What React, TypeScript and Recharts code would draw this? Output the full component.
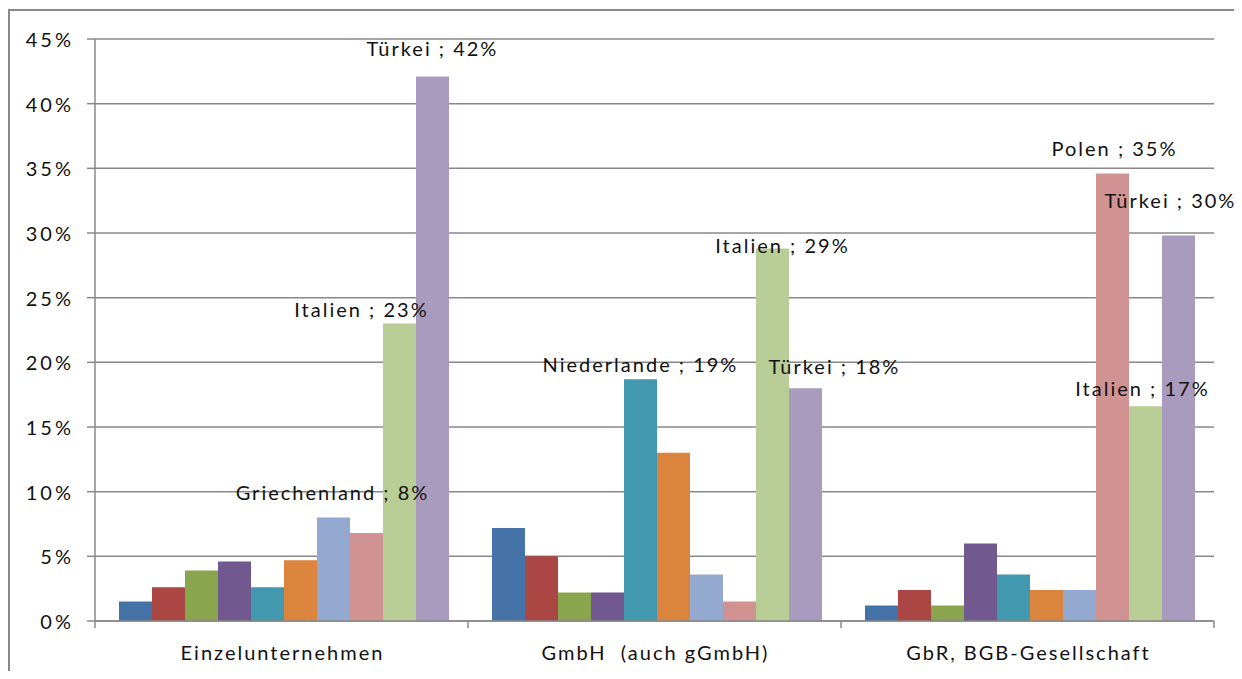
import { BarChart, Bar, XAxis, YAxis, CartesianGrid, LabelList } from "recharts";

const categories = ["Einzelunternehmen", "GmbH  (auch gGmbH)", "GbR, BGB-Gesellschaft"];

// one array per country, values in percent, one per category
const land1 = [1.5, 7.2, 1.2];
const land2 = [2.6, 5.0, 2.4];
const land3 = [3.9, 2.2, 1.2];
const land4 = [4.6, 2.2, 6.0];
const niederlande = [2.6, 18.7, 3.6];
const land5 = [4.7, 13.0, 2.4];
const griechenland = [8.0, 3.6, 2.4];
const polen = [6.8, 1.5, 34.6];
const italien = [23.0, 28.8, 16.6];
const tuerkei = [42.1, 18.0, 29.8];

const yTicks = [0, 5, 10, 15, 20, 25, 30, 35, 40, 45];

const series = [
  { name: "Land 1", values: land1, color: "#4572A7" },
  { name: "Land 2", values: land2, color: "#AA4643" },
  { name: "Land 3", values: land3, color: "#89A54E" },
  { name: "Land 4", values: land4, color: "#71588F" },
  { name: "Niederlande", values: niederlande, color: "#4198AF" },
  { name: "Land 5", values: land5, color: "#DB843D" },
  { name: "Griechenland", values: griechenland, color: "#93A9CF" },
  { name: "Polen", values: polen, color: "#D19392" },
  { name: "Italien", values: italien, color: "#B9CD96" },
  { name: "Türkei", values: tuerkei, color: "#A99BBD" },
];

// which bars carry a data label (category indexes)
const labelled: Record<string, number[]> = {
  Griechenland: [0],
  Niederlande: [1],
  Polen: [2],
  Italien: [0, 1, 2],
  Türkei: [0, 1, 2],
};

// manual nudges of the labels, like in the original sheet: [dx, dy] from bar top centre
const labelNudge: Record<string, [number, number]> = {
  "Türkei|0": [-1, -29],
  "Italien|0": [-39, -15],
  "Griechenland|0": [-2, -26],
  "Niederlande|1": [-1, -15],
  "Italien|1": [9, -4],
  "Türkei|1": [28, -22],
  "Polen|2": [1, -26],
  "Türkei|2": [-9, -36],
  "Italien|2": [-4, -18],
};

const FONT = "Lato, 'Open Sans', sans-serif";
const GRID = "#888888";
const SPACING = 2;

const data = categories.map((c, i) => {
  const row: Record<string, string | number> = { name: c };
  series.forEach((s) => (row[s.name] = s.values[i]));
  return row;
});

const makeLabel = (name: string) => (props: any) => {
  const { x, y, width, value, index } = props;
  if (!(labelled[name] || []).includes(index)) return null;
  const [dx, dy] = labelNudge[`${name}|${index}`] || [0, -15];
  return (
    <text
      x={Number(x) + Number(width) / 2 + dx + SPACING / 2}
      y={Number(y) + dy}
      textAnchor="middle"
      dominantBaseline="central"
      fontFamily={FONT}
      fontSize={20}
      letterSpacing={SPACING}
      fill="#111"
    >
      {`${name} ; ${Math.round(Number(value))}%`}
    </text>
  );
};

const CategoryTick = (props: any) => {
  const { x, y, payload, index } = props;
  const half = payload.offset || 0;
  const last = index === categories.length - 1;
  return (
    <g>
      <line x1={x - half} y1={y} x2={x - half} y2={y + 7} stroke={GRID} strokeWidth={1.5} />
      {last && <line x1={x + half} y1={y} x2={x + half} y2={y + 7} stroke={GRID} strokeWidth={1.5} />}
      <text
        x={x + SPACING / 2}
        y={y + 39}
        textAnchor="middle"
        fontFamily={FONT}
        fontSize={20}
        letterSpacing={SPACING}
        fill="#111"
        style={{ whiteSpace: "pre" }}
      >
        {payload.value}
      </text>
    </g>
  );
};

const ValueTick = (props: any) => {
  const { x, y, payload } = props;
  return (
    <text
      x={x + 3}
      y={y}
      textAnchor="end"
      dominantBaseline="central"
      fontFamily={FONT}
      fontSize={20}
      letterSpacing={3}
      fill="#111"
    >
      {`${payload.value}%`}
    </text>
  );
};

export default function App() {
  return (
    <div style={{ position: "relative", width: 1242, height: 679, margin: -8, overflow: "hidden", background: "#fff" }}>
      <div
        style={{
          position: "absolute",
          left: 8,
          top: 9,
          width: 1233,
          height: 720,
          border: "2px solid #898989",
          boxSizing: "border-box",
        }}
      />
      <div style={{ position: "absolute", left: 0, top: 0 }}>
        <BarChart
          width={1242}
          height={679}
          data={data}
          margin={{ top: 39, right: 28, bottom: 0, left: 0 }}
          barGap={0}
          barCategoryGap={24}
        >
          <CartesianGrid vertical={false} stroke={GRID} strokeWidth={1.5} />
          <XAxis
            dataKey="name"
            height={58}
            axisLine={{ stroke: GRID, strokeWidth: 1.5 }}
            tickLine={false}
            tickSize={0}
            tickMargin={0}
            interval={0}
            tick={<CategoryTick />}
          />
          <YAxis
            width={95}
            domain={[0, 45]}
            ticks={yTicks}
            interval={0}
            axisLine={{ stroke: GRID, strokeWidth: 1.5 }}
            tickLine={{ stroke: GRID, strokeWidth: 1.5 }}
            tickSize={8}
            tickMargin={16}
            tick={<ValueTick />}
          />
          {series.map((s) => (
            <Bar key={s.name} dataKey={s.name} fill={s.color} isAnimationActive={false}>
              <LabelList dataKey={s.name} content={makeLabel(s.name)} />
            </Bar>
          ))}
        </BarChart>
      </div>
    </div>
  );
}
